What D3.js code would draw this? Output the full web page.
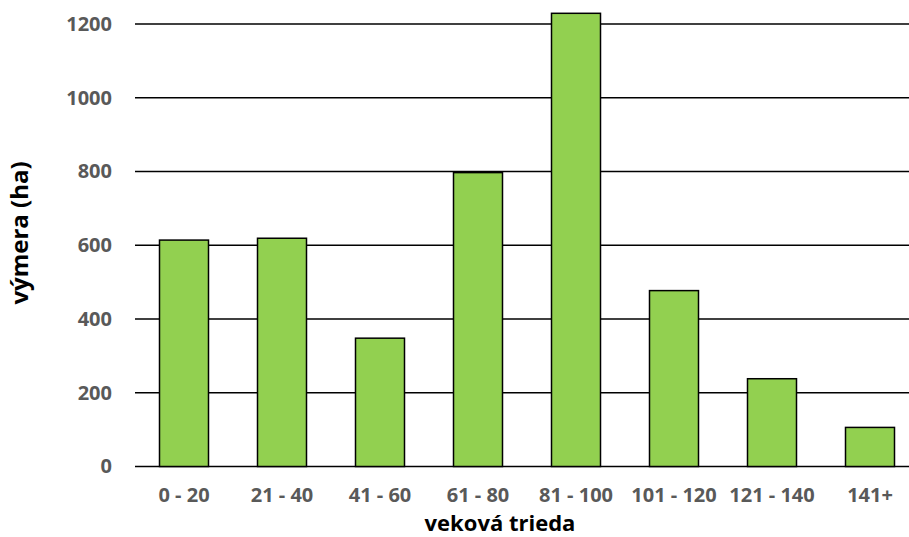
<!DOCTYPE html>
<html><head><meta charset="utf-8">
<script src="https://cdn.jsdelivr.net/npm/d3@7/dist/d3.min.js"></script>
<style>body{margin:0;background:#fff;}svg{display:block;}</style>
</head><body>
<script>
const categories = ["0 - 20","21 - 40","41 - 60","61 - 80","81 - 100","101 - 120","121 - 140","141+"];
const values = [614, 619, 348, 797, 1229, 477, 238, 106];
const yTicks = [0, 200, 400, 600, 800, 1000, 1200];
const xTitle = "veková trieda";
const yTitle = "výmera (ha)";

const W = 909, H = 537;
const m = {left: 135, right: -10, top: 24, bottom: 70.5};
const svg = d3.select("body").append("svg").attr("width", W).attr("height", H);
const x = d3.scaleBand().domain(categories).range([m.left, W - m.right]).paddingInner(0.5).paddingOuter(0.25);
const y = d3.scaleLinear().domain([0, 1200]).range([H - m.bottom, m.top]);
const font = "'Open Sans', Lato, sans-serif";

// gridlines
svg.append("g").selectAll("line").data(yTicks).join("line")
  .attr("x1", m.left).attr("x2", W)
  .attr("y1", d => y(d)).attr("y2", d => y(d))
  .attr("stroke", "#000").attr("stroke-width", 1.3);

// y tick labels
const yAxis = svg.append("g").attr("transform", `translate(${m.left},0)`)
  .call(d3.axisLeft(y).tickValues(yTicks).tickSize(0).tickPadding(23).tickFormat(d3.format("d")));
yAxis.select(".domain").remove();
yAxis.selectAll("text").attr("font-family", font).attr("font-weight", "bold")
  .attr("font-size", 20).attr("fill", "#595959");

// bars
svg.append("g").selectAll("rect").data(values).join("rect")
  .attr("x", (d, i) => x(categories[i]))
  .attr("width", x.bandwidth())
  .attr("y", d => y(d))
  .attr("height", d => y(0) - y(d))
  .attr("fill", "#92D050").attr("stroke", "#000").attr("stroke-width", 1.5);

// x tick labels
const xAxis = svg.append("g").attr("transform", `translate(0,${y(0)})`)
  .call(d3.axisBottom(x).tickSize(0).tickPadding(21));
xAxis.select(".domain").remove();
xAxis.selectAll("text").attr("font-family", font).attr("font-weight", "bold")
  .attr("font-size", 20).attr("fill", "#595959");

// axis titles
svg.append("text").attr("x", 500).attr("y", 530.5)
  .attr("text-anchor", "middle").attr("font-family", font).attr("font-weight", "bold")
  .attr("font-size", 22).attr("fill", "#000").text(xTitle);
svg.append("text").attr("transform", "translate(28,233) rotate(-90)")
  .attr("text-anchor", "middle").attr("font-family", font).attr("font-weight", "bold")
  .attr("font-size", 24).attr("fill", "#000").text(yTitle);
</script>
</body></html>
